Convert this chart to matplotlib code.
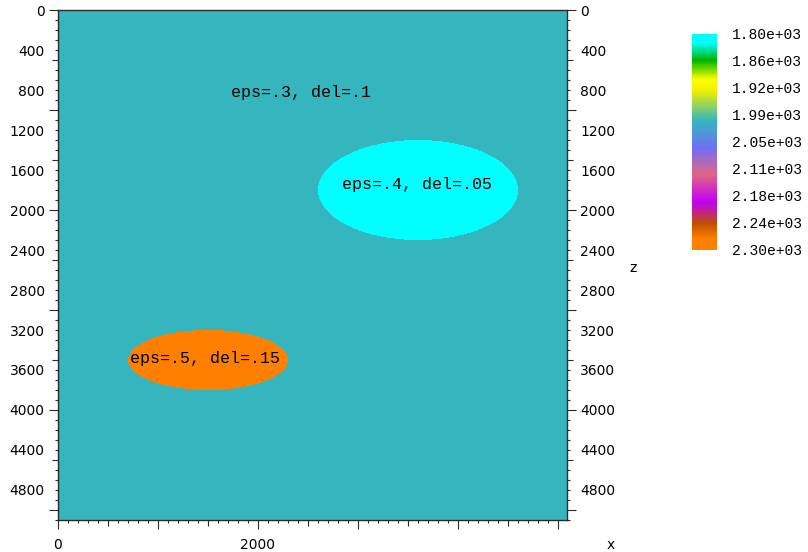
import numpy as np
import matplotlib
matplotlib.use("Agg")
import matplotlib.pyplot as plt
from matplotlib.colors import LinearSegmentedColormap, Normalize
from matplotlib.ticker import MultipleLocator

# velocity model: background plus two elliptical anomalies
background = 2000.0
ell_cx = [3600, 1500]
ell_cz = [1800, 3500]
ell_rx = [1000, 800]
ell_rz = [500, 300]
ell_vel = [1800, 2300]

labels = ["eps=.3, del=.1", "eps=.4, del=.05", "eps=.5, del=.15"]
label_x = [2430, 3590, 1470]
label_z = [820, 1750, 3490]

cb_ticks = [1800, 1862.5, 1925, 1987.5, 2050, 2112.5, 2175, 2237.5, 2300]
cb_labels = ["1.80e+03", "1.86e+03", "1.92e+03", "1.99e+03", "2.05e+03",
             "2.11e+03", "2.18e+03", "2.24e+03", "2.30e+03"]

xmax, zmax, dh = 5090, 5100, 10

stops = [(0.0, "#00ffff"), (0.04, "#00ffff"), (0.12, "#00b400"),
         (0.21, "#ffff00"), (0.26, "#f0f000"), (0.40, "#35b6be"),
         (0.53, "#7070f4"), (0.65, "#e06585"), (0.78, "#c000f4"),
         (0.88, "#c05000"), (0.95, "#ff8000"), (1.0, "#ff8000")]
cmap = LinearSegmentedColormap.from_list("vel", stops)
norm = Normalize(1800, 2300)

xs = np.arange(0, xmax, dh) + dh / 2
zs = np.arange(0, zmax, dh) + dh / 2
X, Z = np.meshgrid(xs, zs)
vel = np.full(X.shape, background)
for cx, cz, rx, rz, v in zip(ell_cx, ell_cz, ell_rx, ell_rz, ell_vel):
    inside = ((X - cx) / rx) ** 2 + ((Z - cz) / rz) ** 2 <= 1
    vel[inside] = v

fig = plt.figure(figsize=(8.08, 5.52), dpi=100)
ax = fig.add_axes([58 / 808, 32 / 552, 509 / 808, 510 / 552])
im = ax.imshow(vel, extent=(0, xmax, zmax, 0), cmap=cmap, norm=norm,
               interpolation="nearest", aspect="auto")
ax.set_xlim(0, xmax)
ax.set_ylim(zmax, 0)

for s, x, z in zip(labels, label_x, label_z):
    ax.text(x, z, s, ha="center", va="center", fontsize=12,
            family="Liberation Mono", color="black")

for sp in ax.spines.values():
    sp.set_color("#2a2a2a")
    sp.set_linewidth(1.0)

# z axis: labels every 400, ticks every 100/500/1000
yvals = sorted(set(range(0, zmax, 400)) | set(range(0, zmax, 500)))
ax.set_yticks(yvals)
ax.set_yticklabels([str(v) if v % 400 == 0 else "" for v in yvals])
ax.yaxis.set_minor_locator(MultipleLocator(100))

# x axis: labels only at 0 and 2000
xvals = list(range(0, xmax, 500))
ax.set_xticks(xvals)
ax.set_xticklabels([str(v) if v in (0, 2000) else "" for v in xvals])
ax.xaxis.set_minor_locator(MultipleLocator(100))

ax.tick_params(which="both", direction="out", color="#2a2a2a", width=0.8,
               labelsize=10, labelcolor="black")
ax.tick_params(axis="y", which="both", left=True, right=True,
               labelleft=True, labelright=True)
ax.tick_params(axis="x", which="both", bottom=True, top=False)
ax.tick_params(which="major", length=6.5, pad=3)
ax.tick_params(axis="x", which="major", pad=6.5)
ax.tick_params(which="minor", length=2.2)


def tick_len(v):
    if v % 1000 == 0:
        return 6.5
    if v % 500 == 0:
        return 4.3
    return 2.2


for v, t in zip(yvals, ax.yaxis.get_major_ticks()):
    t.tick1line.set_markersize(tick_len(v))
    t.tick2line.set_markersize(tick_len(v))
for v, t in zip(xvals, ax.xaxis.get_major_ticks()):
    t.tick1line.set_markersize(tick_len(v))

fig.text(611 / 808, 1 - 545 / 552, "x", ha="center", va="center", fontsize=10)
fig.text(633 / 808, 1 - 268 / 552, "z", ha="center", va="center", fontsize=10)

cax = fig.add_axes([692 / 808, (552 - 250) / 552, 25 / 808, 216 / 552])
cb = fig.colorbar(im, cax=cax)
cb.outline.set_visible(False)
cax.invert_yaxis()
cb.set_ticks(cb_ticks)
cb.set_ticklabels(cb_labels)
cax.tick_params(length=0, pad=11, labelsize=10.5)
for lab in cax.get_yticklabels():
    lab.set_family("Liberation Mono")

fig.savefig("out.png", dpi=100)
